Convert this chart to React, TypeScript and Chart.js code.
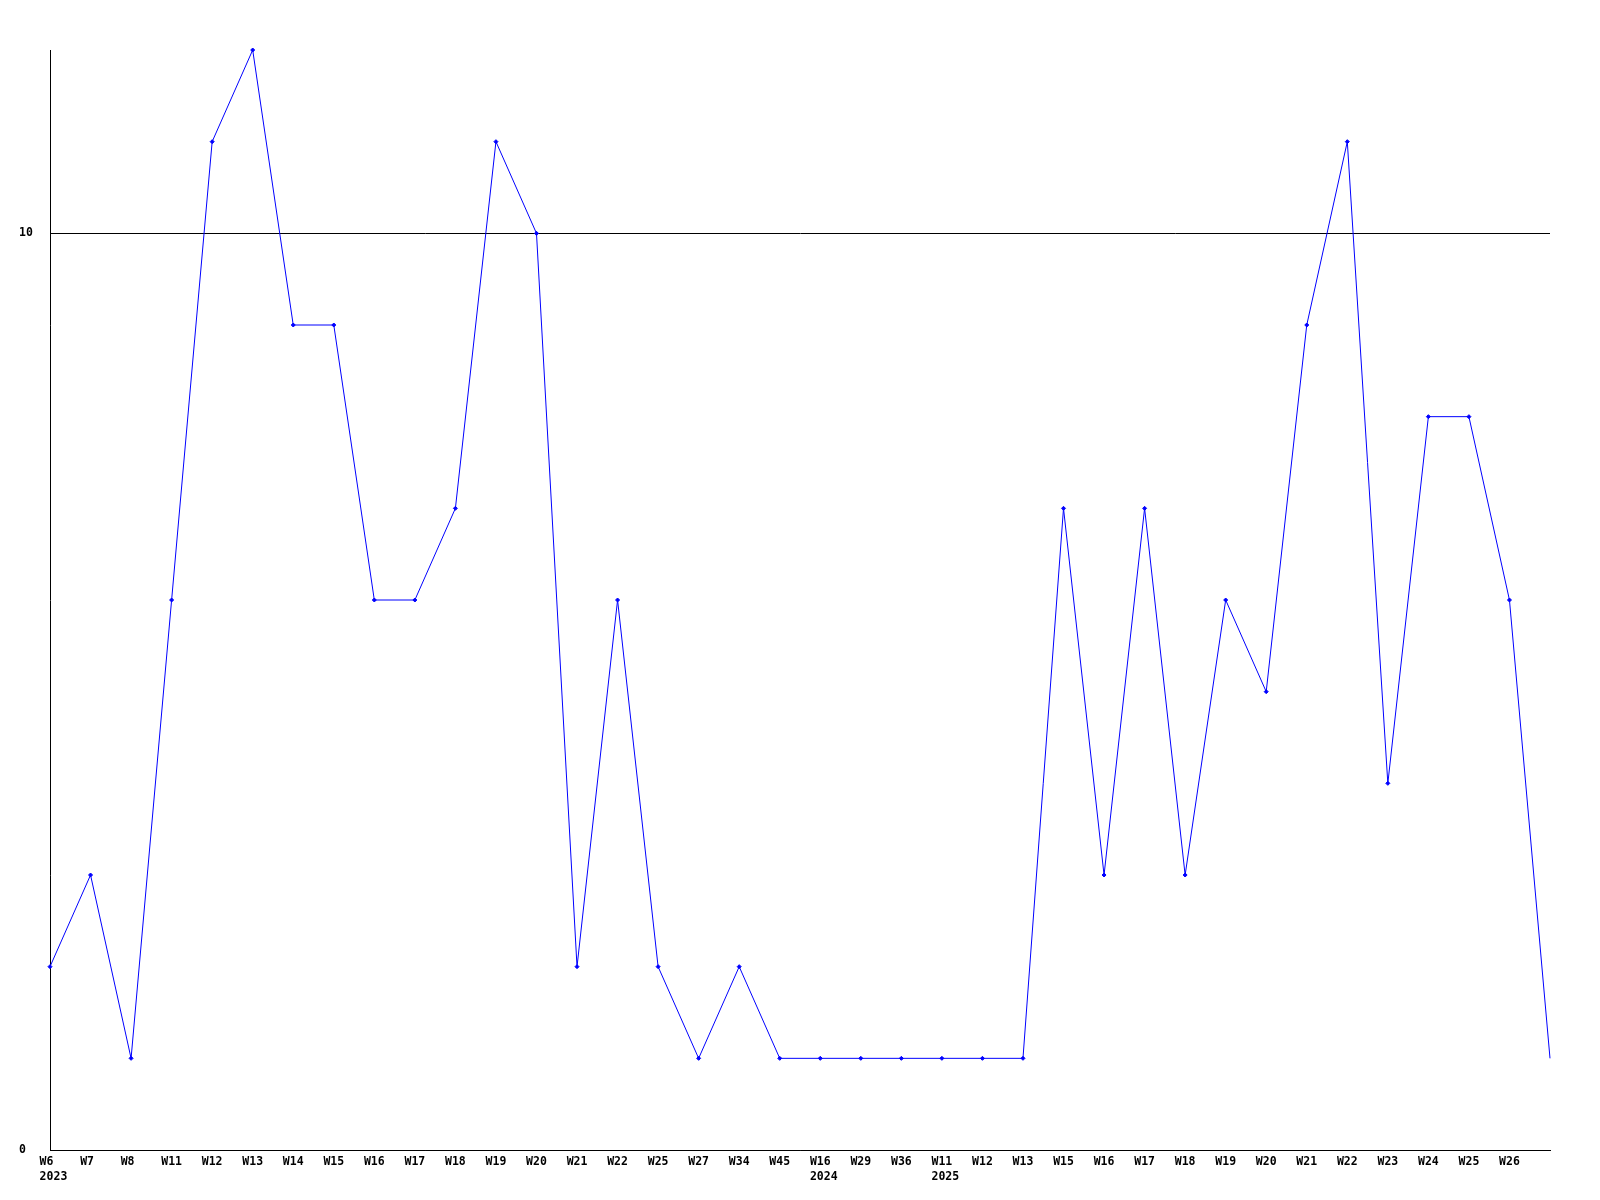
import React, { useEffect, useRef } from "react";
import { Chart, registerables } from "chart.js";

Chart.register(...registerables);

const weekLabels = [
  "W6", "W7", "W8", "W11", "W12", "W13", "W14", "W15", "W16", "W17", "W18", "W19", "W20",
  "W21", "W22", "W25", "W27", "W34", "W45", "W16", "W29", "W36", "W11", "W12", "W13",
  "W15", "W16", "W17", "W18", "W19", "W20", "W21", "W22", "W23", "W24", "W25", "W26", "",
];
const yearLabels: Record<number, string> = { 0: "2023", 19: "2024", 22: "2025" };
const values = [
  2, 3, 1, 6, 11, 12, 9, 9, 6, 6, 7, 11, 10,
  2, 6, 2, 1, 2, 1, 1, 1, 1, 1, 1, 1,
  7, 3, 7, 3, 6, 5, 9, 11, 4, 8, 8, 6, 1,
];
const yTicks = [0, 10];

const pad = (s: string) => (s.length < 3 && s.length > 0 ? s + " ".repeat(3 - s.length) : s);

export default function App() {
  const ref = useRef<HTMLCanvasElement>(null);
  useEffect(() => {
    if (!ref.current) return;
    const labels = weekLabels.map((w, i) => (yearLabels[i] ? [pad(w), " " + yearLabels[i]] : pad(w)));
    const font = { family: "'DejaVu Sans Mono', monospace", size: 11.5, weight: "bold" as const, lineHeight: 1.3 };
    const chart = new Chart(ref.current, {
      type: "line",
      data: {
        labels,
        datasets: [
          {
            data: values,
            borderColor: "#0000ff",
            backgroundColor: "#0000ff",
            borderWidth: 1,
            pointStyle: "rectRot",
            pointRadius: values.map((_, i) => (i === values.length - 1 ? 0 : 2)),
            pointBorderWidth: 1,
            tension: 0,
            clip: false as any,
          },
        ],
      },
      options: {
        animation: false,
        responsive: false,
        devicePixelRatio: 1,
        layout: { padding: { left: 19, right: 50, top: 50, bottom: 0 } },
        plugins: { legend: { display: false }, tooltip: { enabled: false } },
        scales: {
          x: {
            offset: false,
            grid: { display: false, drawTicks: false },
            border: { display: true, color: "#000", width: 1 },
            ticks: { autoSkip: false, maxRotation: 0, minRotation: 0, color: "#000", font, padding: 5 },
            afterFit: (s: any) => {
              s.height = 50;
            },
          },
          y: {
            min: 0,
            max: 12,
            afterBuildTicks: (s: any) => {
              s.ticks = yTicks.map((v) => ({ value: v }));
            },
            grid: { color: "#000", lineWidth: 1, drawTicks: false },
            border: { display: true, color: "#000", width: 1 },
            ticks: { color: "#000", font, crossAlign: "far", padding: 4 },
            afterFit: (s: any) => {
              s.width = 31;
            },
          },
        },
      },
    });
    return () => chart.destroy();
  }, []);
  return (
    <div style={{ position: "absolute", left: 0, top: 0, width: 1600, height: 1200, background: "#fff" }}>
      <canvas ref={ref} width={1600} height={1200} style={{ width: 1600, height: 1200, display: "block" }} />
    </div>
  );
}
